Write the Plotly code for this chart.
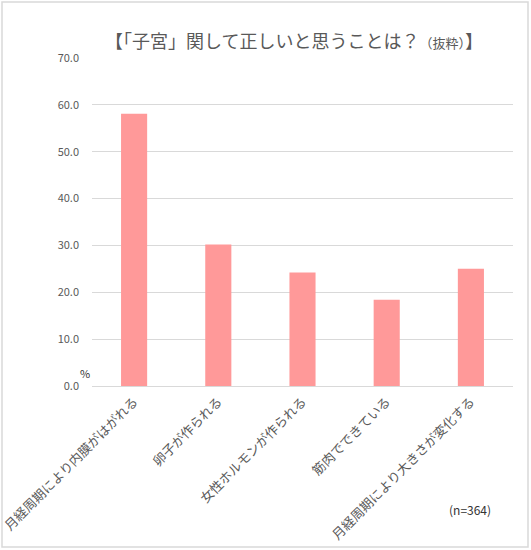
import plotly.graph_objects as go

categories = ['月経周期により内膜がはがれる', '卵子が作られる', '女性ホルモンが作られる',
              '筋肉でできている', '月経周期により大きさが変化する']
values = [58.1, 30.2, 24.2, 18.4, 25.0]
y_ticks = [0, 10, 20, 30, 40, 50, 60, 70]

W, H = 531, 550
L, R, T, B = 92, 18, 58, 164
pw, ph = W - L - R, H - T - B

def px(x):
    return (x - L) / pw

def py(y):
    return (H - B - y) / ph

font = 'Noto Sans CJK JP'
grey = '#595959'

fig = go.Figure(go.Bar(
    x=categories, y=values,
    marker=dict(color='#ff9999', line=dict(width=0)),
    width=0.31,
))

fig.update_layout(
    width=W, height=H,
    margin=dict(l=L, r=R, t=T, b=B, autoexpand=False),
    paper_bgcolor='white', plot_bgcolor='white',
    font=dict(family=font, color=grey, size=12),
    showlegend=False,
    xaxis=dict(tickangle=-45, showgrid=False, showline=True, linecolor='#d9d9d9',
               automargin=False, ticks='', ticklabelstandoff=2,
               tickfont=dict(size=13, color=grey)),
    yaxis=dict(range=[0, 70], tickvals=y_ticks, tickformat='.1f', automargin=False,
               showgrid=True, gridcolor='#d9d9d9', zeroline=False,
               ticks='', ticklabelstandoff=12, tickfont=dict(size=11, color=grey)),
    annotations=[
        dict(text='【「子宮」関して正しいと思うことは？<span style="font-size:13px">（抜粋）</span>】',
             x=px(294), y=py(40), xanchor='center', yanchor='middle',
             xref='paper', yref='paper', showarrow=False,
             font=dict(size=18, color=grey)),
        dict(text='%', x=px(85), y=py(373), xanchor='center', yanchor='middle',
             xref='paper', yref='paper',
             showarrow=False, font=dict(size=11, color='#333333')),
        dict(text='(n=364)', x=px(470), y=py(510), xanchor='center', yanchor='middle',
             xref='paper', yref='paper',
             showarrow=False, font=dict(size=12, color='#333333')),
    ],
    shapes=[dict(type='rect', xref='paper', yref='paper',
                 x0=px(2), x1=px(528), y0=py(547), y1=py(2),
                 line=dict(color='#d9d9d9', width=1.5))],
)

fig.write_html("out.html", config={'displayModeBar': False},
               post_script="document.body.style.margin='0px';")
